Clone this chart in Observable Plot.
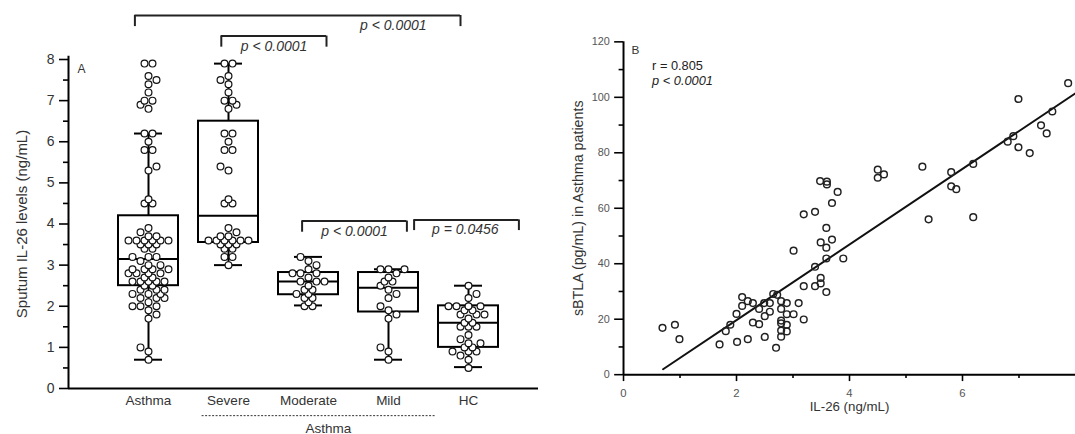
<!DOCTYPE html>
<html><head><meta charset="utf-8">
<script src="https://cdn.jsdelivr.net/npm/d3@7"></script>
<script src="https://cdn.jsdelivr.net/npm/@observablehq/plot@0.6"></script>
<style>
html,body{margin:0;padding:0;background:#fff;overflow:hidden;width:1075px;height:434px;position:relative}
#a{position:absolute;left:0;top:0}
#b{position:absolute;left:560px;top:0}
</style></head><body><div id="a"></div><div id="b"></div>
<script>
// ---------- Panel A data ----------
const groups = ["Asthma", "Severe", "Moderate", "Mild", "HC"];
const severe = [7.9,7.9,7.6,7.5,7.4,7.2,7.0,7.0,6.9,6.8,6.2,6.2,6.0,5.8,5.8,5.4,5.3,4.6,4.5,4.5,3.9,3.8,3.7,3.7,3.6,3.6,3.6,3.6,3.6,3.6,3.5,3.5,3.5,3.4,3.4,3.2,3.2,3.0];
const moderate = [3.2,3.1,3.0,2.9,2.8,2.8,2.8,2.7,2.6,2.6,2.6,2.5,2.4,2.4,2.3,2.3,2.2,2.2,2.1,2.0,2.0];
const mild = [2.9,2.9,2.9,2.8,2.7,2.6,2.6,2.5,2.4,2.3,2.2,2.0,1.9,1.8,1.7,1.0,0.9,0.7];
const hc = [2.5,2.3,2.2,2.0,2.0,2.0,2.0,1.9,1.9,1.8,1.8,1.8,1.7,1.6,1.6,1.5,1.5,1.5,1.3,1.2,1.1,1.1,1.0,1.0,0.9,0.9,0.9,0.8,0.7,0.5];
const asthma = [...severe, ...moderate, ...mild];
const groupValues = [asthma, severe, moderate, mild, hc];
const boxQ1 = [2.5, 3.55, 2.28, 1.86, 1.0];
const boxMedian = [3.15, 4.2, 2.6, 2.45, 1.6];
const boxQ3 = [4.2, 6.5, 2.82, 2.82, 2.01];
const whiskerLow = [0.7, 3.0, 2.02, 0.7, 0.52];
const whiskerHigh = [6.2, 7.9, 3.2, 2.9, 2.5];
const yTicksA = [0,1,2,3,4,5,6,7,8];
const yMinorA = [0.5,1.5,2.5,3.5,4.5,5.5,6.5,7.5];
const yLabelA = "Sputum IL-26 levels (ng/mL)";
const comparisons = [
  {x1: 0.83, x2: 4.90, y: 9.07, yLeg: 8.80, tx: 4.06, ty: 8.82, label: "p < 0.0001"},
  {x1: 1.91, x2: 3.225, y: 8.57, yLeg: 8.30, tx: 2.57, ty: 8.32, label: "p < 0.0001"},
  {x1: 2.92, x2: 4.23, y: 4.07, yLeg: 3.80, tx: 3.575, ty: 3.82, label: "p < 0.0001"},
  {x1: 4.32, x2: 5.63, y: 4.10, yLeg: 3.84, tx: 4.96, ty: 3.87, label: "p = 0.0456"}
];
const subgroupLabel = "Asthma";

// ---------- Panel B data ----------
const il26 = [0.69,0.91,0.99,1.70,1.81,1.89,2.00,2.01,2.10,2.10,2.20,2.20,2.29,2.29,2.40,2.40,2.49,2.50,2.50,2.59,2.59,2.65,2.70,2.72,2.79,2.79,2.79,2.79,2.79,2.79,2.89,2.89,2.89,2.89,3.01,3.01,3.10,3.19,3.19,3.19,3.39,3.39,3.39,3.49,3.49,3.49,3.59,3.59,3.59,3.59,3.69,3.69,3.89,3.48,3.60,3.60,3.79,4.50,4.50,4.61,5.29,5.40,5.80,5.80,5.89,6.19,6.19,6.80,6.90,6.99,6.99,7.19,7.39,7.49,7.59,7.87];
const sbtla = [16.9,18.0,12.8,10.9,15.7,18.0,21.9,11.8,28.0,24.8,26.5,12.8,25.8,18.8,23.7,18.2,25.8,21.1,13.6,25.8,22.7,29.1,9.7,28.8,26.5,23.7,19.5,18.5,15.9,13.7,25.8,21.8,18.0,15.6,21.8,44.7,25.8,19.9,31.9,57.8,31.9,38.9,58.7,34.9,32.9,47.7,29.8,41.9,45.8,52.9,48.7,61.9,41.9,69.8,69.6,68.6,65.9,73.9,71.0,72.2,75.0,56.0,73.0,67.9,66.9,76.0,56.8,84.0,86.0,99.4,82.0,79.9,89.9,87.0,94.9,105.1];
const fitSlope = 13.63, fitIntercept = -7.58, fitFrom = 0.7, fitTo = 8;
const yTicksB = [0,20,40,60,80,100,120];
const yMinorB = [10,30,50,70,90,110];
const xTicksB = [0,2,4,6];
const xMinorB = [1,3,5,7];
const yLabelB = "sBTLA (pg/mL) in Asthma patients";
const xLabelB = "IL-26 (ng/mL)";
const rText = "r = 0.805";
const pText = "p < 0.0001";

const font = "Arial, 'Liberation Sans', sans-serif";

// ---------- Panel A ----------
const A = {width: 560, height: 434, ml: 68, mr: 22, mt: 59, mb: 46, xMax: 5.875, yMax: 8};
const pxPerX = (A.width - A.ml - A.mr) / A.xMax;
const pxPerY = (A.height - A.mt - A.mb) / A.yMax;

function swarm(values, center) {
  const sorted = values.slice().sort((a, b) => a - b);
  const counts = d3.rollup(sorted, v => v.length, v => v);
  const placed = [];
  const D = 5.6;
  let flip = -1;
  const out = [];
  for (const v of sorted) {
    const k = counts.get(v);
    const cy = v * pxPerY;
    const cands = d3.range(-20, 21).map(j => j * 4);
    const score = a => {
      const even = (Math.abs(a) / 4) % 2 === 0;
      const mismatch = (k % 2 === 1) ? !even : even;
      return Math.abs(a) + (mismatch ? 5 : 0) + (Math.sign(a) === flip ? 0 : 0.1);
    };
    cands.sort((a, b) => score(a) - score(b));
    let x = 0;
    for (const c of cands) {
      if (!placed.some(p => (p.x - c) ** 2 + (p.y - cy) ** 2 < D * D)) { x = c; break; }
    }
    if (x !== 0) flip = -Math.sign(x);
    placed.push({x, y: cy});
    out.push({x: center + x / pxPerX, y: v});
  }
  return out;
}

const dots = groupValues.flatMap((vals, i) => swarm(vals, i + 1));
const boxes = groups.map((g, i) => ({g, i: i + 1, q1: boxQ1[i], med: boxMedian[i], q3: boxQ3[i], lo: whiskerLow[i], hi: whiskerHigh[i]}));
const half = 0.375, cap = 0.175;

const plotA = Plot.plot({
  width: A.width, height: A.height,
  marginLeft: A.ml, marginRight: A.mr, marginTop: A.mt, marginBottom: A.mb,
  x: {domain: [0, A.xMax], axis: null},
  y: {domain: [0, A.yMax], axis: null},
  style: {fontFamily: font, fontSize: "13px", color: "black", background: "white", overflow: "visible"},
  marks: [
    Plot.ruleX(boxes, {x: "i", y1: "lo", y2: "q1", strokeWidth: 2}),
    Plot.ruleX(boxes, {x: "i", y1: "q3", y2: "hi", strokeWidth: 2}),
    Plot.ruleY(boxes, {y: "lo", x1: d => d.i - cap, x2: d => d.i + cap, strokeWidth: 2}),
    Plot.ruleY(boxes, {y: "hi", x1: d => d.i - cap, x2: d => d.i + cap, strokeWidth: 2}),
    Plot.rect(boxes, {x1: d => d.i - half, x2: d => d.i + half, y1: "q1", y2: "q3", fill: "none", stroke: "black", strokeWidth: 2}),
    Plot.ruleY(boxes, {y: "med", x1: d => d.i - half, x2: d => d.i + half, strokeWidth: 2}),
    Plot.dot(dots, {x: "x", y: "y", r: 3.4, fill: "white", stroke: "#111", strokeWidth: 1.2}),
    // axes
    Plot.ruleX([0], {y1: 0, y2: A.yMax + 0.08, strokeWidth: 2}),
    Plot.ruleY([0], {x1: 0, x2: A.xMax, strokeWidth: 2}),
    Plot.axisY(yTicksA, {tickSize: 9, tickPadding: 5, strokeWidth: 1.6, fontSize: 14, fill: "#333", label: null}),
    Plot.axisY(yMinorA, {tickSize: 5, strokeWidth: 1.6, tickFormat: () => "", label: null}),
    Plot.axisX(groups.map((g, i) => i + 1), {tickSize: 0, tickPadding: 7, tickFormat: i => groups[i - 1], fontSize: 13.5, fill: "#333", label: null}),
    Plot.text([yLabelA], {frameAnchor: "left", textAnchor: "middle", rotate: -90, dx: -46, fontSize: 15, fill: "#333"}),
    Plot.text(["A"], {frameAnchor: "top-left", dx: 9, dy: 4.5, textAnchor: "start", fontSize: 12, fill: "#333"}),
    // brackets
    Plot.ruleY(comparisons, {y: "y", x1: "x1", x2: "x2", strokeWidth: 2, stroke: "#222"}),
    Plot.ruleX(comparisons, {x: "x1", y1: "yLeg", y2: "y", strokeWidth: 2, stroke: "#222"}),
    Plot.ruleX(comparisons, {x: "x2", y1: "yLeg", y2: "y", strokeWidth: 2, stroke: "#222"}),
    Plot.text(comparisons, {x: "tx", y: "ty", text: "label", fontStyle: "italic", fontSize: 14, fill: "#333"}),
    // subgroup bracket
    Plot.ruleY([-0.66], {x1: 1.67, x2: 4.59, strokeWidth: 1, strokeDasharray: "2,1.5", stroke: "#333"}),
    Plot.text([subgroupLabel], {x: 3.25, y: -0.98, fontSize: 13.5, fill: "#333"})
  ]
});
document.getElementById("a").appendChild(plotA);

// ---------- Panel B ----------
const scatter = il26.map((x, i) => ({x, y: sbtla[i]}));
const fit = [fitFrom, fitTo].map(x => ({x, y: fitSlope * x + fitIntercept}));

const plotB = Plot.plot({
  width: 523, height: 434,
  marginLeft: 64, marginRight: 0, marginTop: 42, marginBottom: 54,
  x: {domain: [0, 8], axis: null},
  y: {domain: [0, 120], axis: null},
  style: {fontFamily: font, fontSize: "11px", color: "black", background: "white", overflow: "visible"},
  marks: [
    Plot.line(fit, {x: "x", y: "y", strokeWidth: 2, stroke: "#111"}),
    Plot.dot(scatter, {x: "x", y: "y", r: 3.4, fill: "none", stroke: "#222", strokeWidth: 1.5}),
    Plot.ruleX([0], {y1: 0, y2: 120, strokeWidth: 2}),
    Plot.ruleY([0], {x1: 0, x2: 8, strokeWidth: 2}),
    Plot.axisY(yTicksB, {tickSize: 9, tickPadding: 5, strokeWidth: 1.6, fontSize: 11, fill: "#555", label: null}),
    Plot.axisY(yMinorB, {tickSize: 4.5, strokeWidth: 1.6, tickFormat: () => "", label: null}),
    Plot.axisX(xTicksB, {tickSize: 7, tickPadding: 8, strokeWidth: 1.6, fontSize: 11.5, fill: "#555", label: null}),
    Plot.axisX(xMinorB, {tickSize: 4, strokeWidth: 1.6, tickFormat: () => "", label: null}),
    Plot.text([yLabelB], {frameAnchor: "left", textAnchor: "middle", rotate: -90, dx: -46, fontSize: 14.5, fill: "#333"}),
    Plot.text([xLabelB], {frameAnchor: "bottom", dy: 37, fontSize: 13.5, fill: "#333"}),
    Plot.text(["B"], {frameAnchor: "top-left", dx: 8, dy: 4, textAnchor: "start", fontSize: 12, fill: "#333"}),
    Plot.text([rText], {frameAnchor: "top-left", dx: 29, dy: 19, textAnchor: "start", fontSize: 13, fill: "#222"}),
    Plot.text([pText], {frameAnchor: "top-left", dx: 29, dy: 35, textAnchor: "start", fontSize: 13, fontStyle: "italic", fill: "#222"})
  ]
});
document.getElementById("b").appendChild(plotB);
</script></body></html>
